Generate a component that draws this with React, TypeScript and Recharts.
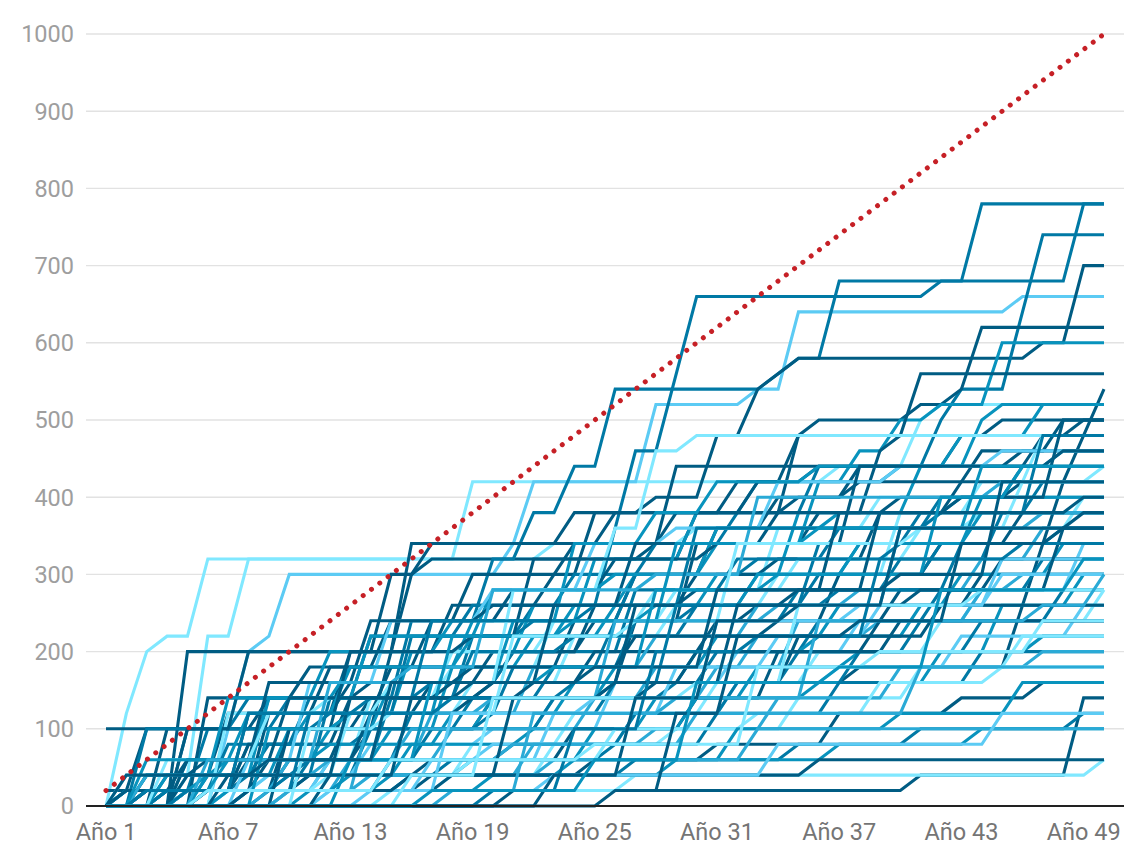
import { CartesianGrid, Line, LineChart, XAxis, YAxis } from 'recharts';

type Step = [number, number];

const yearLabels = Array.from({ length: 50 }, (_, i) => `Año ${i + 1}`);
const yTicks = [0, 100, 200, 300, 400, 500, 600, 700, 800, 900, 1000];

const targetLine = [
  20, 40, 60, 80, 100, 120, 140, 160, 180, 200,
  220, 240, 260, 280, 300, 320, 340, 360, 380, 400,
  420, 440, 460, 480, 500, 520, 540, 560, 580, 600,
  620, 640, 660, 680, 700, 720, 740, 760, 780, 800,
  820, 840, 860, 880, 900, 920, 940, 960, 980, 1000,
];

// each pair: [year, value reached that year]; value is held until the next pair
const l01: Step[] = [[2, 120], [3, 200], [4, 220], [6, 320], [19, 420], [37, 440], [41, 500], [42, 520]];
const l02: Step[] = [[5, 40], [6, 220], [8, 320], [23, 340], [30, 360], [44, 380]];
const l03: Step[] = [[7, 100], [8, 200], [9, 220], [10, 300], [21, 340], [22, 420], [28, 520], [33, 540], [35, 640], [46, 660]];
const l04: Step[] = [[1, 100], [14, 140], [20, 160], [27, 240], [33, 260], [44, 300]];
const l05: Step[] = [[5, 200], [16, 300], [17, 320], [28, 340], [29, 440], [46, 460], [48, 500]];
const l06: Step[] = [[6, 20], [11, 60], [15, 140], [19, 220], [22, 260], [26, 360], [27, 460], [29, 560], [30, 660], [42, 680], [44, 780]];
const l07: Step[] = [[3, 20], [8, 40], [12, 140], [16, 240], [20, 320], [22, 380], [24, 440], [26, 540], [34, 560], [35, 580], [37, 680], [49, 780]];
const l08: Step[] = [[4, 20], [9, 120], [13, 200], [18, 260], [23, 300], [25, 380], [28, 400], [31, 480], [33, 540], [34, 560], [35, 580], [47, 600], [49, 700]];
const l09: Step[] = [[2, 20], [6, 100], [10, 140], [14, 220], [19, 260], [24, 300], [28, 340], [32, 380], [36, 440], [42, 500], [43, 540], [46, 640], [47, 740]];
const l10: Step[] = [[3, 40], [7, 120], [12, 180], [17, 240], [21, 280], [26, 320], [30, 380], [35, 480], [36, 500], [41, 520], [43, 540], [44, 620]];
const l11: Step[] = [[5, 60], [9, 140], [13, 180], [19, 240], [25, 320], [30, 380], [33, 420], [38, 460], [40, 500], [42, 520], [45, 600]];
const l12: Step[] = [[5, 20], [9, 60], [13, 120], [17, 160], [21, 200], [25, 240], [30, 340], [36, 380], [39, 460], [40, 480], [41, 560]];
const l13: Step[] = [[3, 20], [8, 60], [14, 100], [20, 140], [26, 160], [38, 180], [46, 260], [47, 340], [48, 420], [49, 480], [50, 540]];
const l14: Step[] = [[4, 20], [8, 80], [11, 120], [16, 200], [22, 260], [27, 300], [31, 340], [36, 420], [40, 440], [44, 500], [45, 520]];
const l15: Step[] = [[1, 20], [3, 100], [13, 120], [15, 180], [24, 240], [27, 300], [31, 360], [34, 400], [38, 440], [47, 480], [49, 500]];
const l16: Step[] = [[2, 40], [9, 60], [14, 140], [18, 180], [23, 240], [28, 280], [34, 360], [39, 400], [45, 420], [47, 480]];
const l17: Step[] = [[6, 140], [11, 180], [15, 240], [19, 300], [24, 340], [29, 380], [33, 420], [36, 440], [43, 480]];
const l18: Step[] = [[3, 40], [7, 60], [12, 100], [18, 180], [22, 220], [26, 260], [31, 300], [35, 380], [41, 440], [48, 460]];
const l19: Step[] = [[6, 20], [10, 100], [15, 200], [16, 340], [24, 380], [35, 400], [38, 420], [44, 460]];
const l20: Step[] = [[2, 20], [7, 80], [11, 140], [17, 160], [21, 200], [27, 280], [32, 320], [37, 360], [42, 400], [46, 440]];
const l21: Step[] = [[4, 20], [9, 40], [13, 120], [19, 160], [24, 220], [29, 260], [34, 300], [40, 380], [44, 420], [50, 440]];
const l22: Step[] = [[4, 100], [9, 140], [14, 160], [20, 200], [25, 260], [30, 300], [34, 320], [39, 380], [43, 420]];
const l23: Step[] = [[5, 20], [10, 60], [16, 120], [21, 180], [26, 240], [30, 260], [36, 340], [41, 380], [47, 420]];
const l24: Step[] = [[2, 20], [6, 40], [10, 100], [15, 160], [21, 240], [28, 260], [33, 300], [38, 340], [44, 400]];
const l25: Step[] = [[7, 120], [12, 140], [18, 200], [23, 240], [29, 280], [35, 320], [41, 360], [49, 400]];
const l26: Step[] = [[4, 20], [8, 80], [13, 140], [18, 160], [25, 200], [31, 240], [37, 300], [42, 340], [46, 380]];
const l27: Step[] = [[3, 20], [11, 40], [14, 100], [19, 140], [23, 180], [27, 240], [35, 280], [40, 320], [45, 380]];
const l28: Step[] = [[5, 100], [8, 140], [19, 200], [24, 220], [30, 260], [36, 300], [42, 340], [48, 360]];
const l29: Step[] = [[7, 20], [12, 60], [17, 120], [22, 180], [28, 220], [33, 260], [38, 280], [44, 320], [47, 360]];
const l30: Step[] = [[5, 20], [10, 60], [15, 100], [20, 140], [26, 180], [31, 220], [37, 260], [43, 300], [48, 340]];
const l31: Step[] = [[3, 20], [9, 40], [14, 80], [20, 100], [26, 160], [32, 200], [38, 240], [44, 280], [49, 340]];
const l32: Step[] = [[4, 40], [9, 80], [14, 100], [20, 120], [26, 160], [31, 200], [36, 240], [42, 280], [47, 320]];
const l33: Step[] = [[5, 20], [8, 120], [13, 160], [19, 180], [27, 220], [34, 240], [40, 280], [45, 320]];
const l34: Step[] = [[2, 20], [7, 60], [12, 80], [18, 120], [24, 160], [30, 200], [36, 220], [41, 260], [49, 300]];
const l35: Step[] = [[8, 20], [13, 60], [18, 100], [23, 140], [28, 180], [33, 220], [39, 240], [44, 280], [46, 300]];
const l36: Step[] = [[6, 40], [11, 60], [17, 100], [23, 140], [29, 160], [35, 200], [41, 240], [48, 280]];
const l37: Step[] = [[9, 20], [14, 40], [19, 80], [24, 120], [31, 160], [36, 200], [42, 240], [50, 280]];
const l38: Step[] = [[4, 20], [10, 40], [16, 80], [22, 100], [28, 140], [33, 180], [38, 200], [45, 260]];
const l39: Step[] = [[7, 20], [12, 60], [20, 80], [27, 120], [32, 160], [37, 180], [43, 220], [49, 260]];
const l40: Step[] = [[6, 20], [11, 40], [17, 60], [24, 100], [30, 140], [34, 200], [39, 240]];
const l41: Step[] = [[9, 20], [15, 60], [21, 80], [27, 120], [32, 160], [38, 200], [44, 240]];
const l42: Step[] = [[3, 20], [10, 60], [16, 100], [25, 140], [31, 180], [35, 240]];
const l43: Step[] = [[8, 20], [13, 40], [19, 60], [25, 100], [30, 140], [36, 160], [42, 200], [47, 220]];
const l44: Step[] = [[12, 20], [18, 40], [23, 80], [29, 100], [35, 140], [41, 180], [46, 220]];
const l45: Step[] = [[4, 20], [10, 40], [18, 60], [26, 80], [31, 120], [37, 160], [44, 200]];
const l46: Step[] = [[9, 20], [16, 40], [22, 80], [28, 100], [34, 140], [40, 180], [47, 200]];
const l47: Step[] = [[5, 20], [12, 40], [19, 60], [26, 100], [33, 120], [39, 160], [45, 180]];
const l48: Step[] = [[10, 20], [17, 40], [25, 60], [31, 80], [37, 120], [43, 140], [47, 160]];
const l49: Step[] = [[7, 20], [15, 40], [24, 60], [32, 100], [40, 120], [46, 160]];
const l50: Step[] = [[21, 20], [41, 40], [49, 140]];
const l51: Step[] = [[8, 20], [16, 40], [27, 60], [35, 80], [41, 100], [49, 120]];
const l52: Step[] = [[11, 20], [20, 40], [29, 60], [37, 80], [44, 100]];
const l53: Step[] = [[5, 20], [14, 40], [23, 60], [33, 100]];
const l54: Step[] = [[15, 20], [27, 40], [50, 60]];
const l55: Step[] = [[3, 20], [18, 40], [36, 60]];
const l56: Step[] = [[3, 100], [12, 120], [16, 220], [22, 240], [27, 300], [33, 320], [40, 340]];
const l57: Step[] = [[5, 100], [8, 200], [15, 300], [17, 340], [26, 380], [32, 420], [35, 480], [45, 500]];
const l58: Step[] = [[6, 40], [9, 140], [14, 220], [20, 280], [26, 300], [31, 360], [37, 380], [43, 400]];
const l59: Step[] = [[8, 60], [11, 160], [15, 240], [20, 280], [25, 340], [29, 360], [34, 420], [40, 440], [45, 460]];
const l60: Step[] = [[4, 40], [7, 140], [12, 200], [18, 240], [24, 340], [28, 380], [31, 420], [36, 440], [43, 480], [47, 520]];
const l61: Step[] = [[5, 60], [9, 160], [14, 240], [20, 260], [27, 340], [34, 380], [40, 400], [46, 420]];
const l62: Step[] = [[4, 60], [9, 120], [15, 160], [21, 280], [26, 360], [28, 460], [30, 480]];
const l63: Step[] = [[2, 20], [5, 60], [10, 140], [20, 160], [30, 200], [40, 240]];
const l64: Step[] = [[10, 20], [17, 60], [23, 120], [29, 180], [34, 220], [39, 260], [45, 300]];
const l65: Step[] = [[3, 40], [12, 60], [21, 80], [30, 120], [41, 180]];
const l66: Step[] = [[5, 40], [6, 60], [14, 120], [19, 140], [28, 160], [35, 220], [42, 260]];
const l67: Step[] = [[3, 60], [8, 120], [13, 180], [19, 220], [24, 260], [33, 300], [38, 340], [44, 380]];
const l68: Step[] = [[12, 20], [23, 40], [34, 80], [45, 120]];
const l69: Step[] = [[10, 100], [13, 200], [19, 220], [22, 320], [31, 340], [38, 440], [48, 460]];
const l70: Step[] = [[6, 60], [12, 160], [16, 180], [20, 280], [28, 300], [33, 400], [45, 420]];
const l71: Step[] = [[3, 20], [8, 120], [14, 140], [17, 240], [25, 260], [30, 360], [42, 380], [47, 480]];
const l72: Step[] = [[9, 100], [13, 120], [18, 220], [24, 240], [29, 340], [36, 360], [44, 440]];
const l73: Step[] = [[11, 100], [15, 120], [21, 220], [27, 240], [32, 340], [41, 360], [46, 420]];
const l74: Step[] = [[7, 40], [13, 140], [19, 160], [23, 260], [30, 280], [37, 380], [43, 400], [48, 500]];
const l75: Step[] = [[10, 20], [14, 120], [20, 140], [26, 240], [34, 260], [40, 360], [47, 380]];
const l76: Step[] = [[12, 40], [16, 140], [22, 160], [27, 260], [35, 280], [39, 380], [49, 400]];
const l77: Step[] = [[5, 20], [11, 120], [18, 140], [24, 160], [29, 260], [37, 280], [43, 340]];
const l78: Step[] = [[14, 20], [18, 120], [25, 140], [31, 240], [38, 260], [45, 320]];
const l79: Step[] = [[8, 20], [16, 40], [21, 140], [26, 160], [32, 260], [41, 280], [48, 360]];
const l80: Step[] = [[13, 60], [17, 160], [23, 180], [28, 280], [34, 300], [42, 400], [46, 440]];
const l81: Step[] = [[16, 40], [20, 140], [30, 160], [35, 260], [44, 280]];
const l82: Step[] = [[2, 40], [9, 60], [15, 160], [25, 180], [31, 280], [40, 300], [45, 420]];
const l83: Step[] = [[18, 20], [22, 120], [29, 140], [36, 240], [47, 260], [50, 300]];
const l84: Step[] = [[20, 20], [24, 100], [28, 200], [33, 220], [39, 320], [46, 340]];
const l85: Step[] = [[23, 40], [27, 140], [31, 240], [35, 260], [40, 360], [49, 380]];
const l86: Step[] = [[6, 20], [15, 60], [25, 80], [33, 180], [39, 200], [47, 240]];
const l87: Step[] = [[26, 20], [29, 120], [32, 220], [38, 240], [43, 340], [48, 360]];
const l88: Step[] = [[17, 20], [25, 60], [30, 160], [37, 180], [42, 280], [49, 320]];

const allSteps: Step[][] = [
  l01, l02, l03, l04, l05, l06, l07, l08, l09, l10, l11, l12, l13, l14, l15, l16, l17,
  l18, l19, l20, l21, l22, l23, l24, l25, l26, l27, l28, l29, l30, l31, l32, l33, l34,
  l35, l36, l37, l38, l39, l40, l41, l42, l43, l44, l45, l46, l47, l48, l49, l50, l51,
  l52, l53, l54, l55, l56, l57, l58, l59, l60, l61, l62, l63, l64, l65, l66, l67, l68,
  l69, l70, l71, l72, l73, l74, l75, l76, l77, l78, l79, l80, l81, l82, l83, l84, l85,
  l86, l87, l88,
];

const palette = ['#80E8FF', '#5CCBF4', '#2AAAD6', '#0893BD', '#0079A5', '#005C83'];
const colorIdx = [
  0, 0, 1, 5, 5, 4, 4, 5, 4, 5, 3, 5, 5, 3, 5, 0, 5,
  3, 5, 4, 0, 5, 4, 3, 0, 5, 4, 4, 2, 3, 1, 4, 5, 3,
  2, 4, 0, 3, 1, 5, 4, 2, 3, 0, 4, 2, 0, 5, 3, 5, 4,
  3, 2, 0, 5, 4, 5, 3, 1, 3, 5, 0, 5, 1, 2, 5, 3, 1,
  5, 2, 4, 3, 0, 5, 2, 5, 4, 1, 5, 3, 0, 5, 2, 4, 5,
  0, 5, 3,
];

const seriesKeys = allSteps.map((_, i) => `s${i + 1}`);

function valueAt(steps: Step[], year: number) {
  let v = 0;
  for (const [y, val] of steps) if (y <= year) v = val;
  return v;
}

const data = yearLabels.map((label, i) => {
  const row: Record<string, number | string> = { year: label, target: targetLine[i] };
  allSteps.forEach((steps, k) => {
    row[seriesKeys[k]] = valueAt(steps, i + 1);
  });
  return row;
});

export default function App() {
  return (
    <div style={{ position: 'absolute', left: 0, top: 0, width: 1148, height: 866, background: '#fff' }}>
      <LineChart
        width={1148}
        height={866}
        data={data}
        margin={{ top: 34, right: 24, bottom: 0, left: 0 }}
        style={{ fontFamily: 'Roboto, sans-serif' }}
      >
        <CartesianGrid vertical={false} stroke="#e2e2e2" strokeWidth={1.4} />
        <XAxis
          dataKey="year"
          interval={5}
          padding={{ left: 20, right: 20 }}
          height={60}
          tickSize={0}
          tickMargin={17}
          tick={{ fill: '#757575', fontSize: 23.5 }}
          axisLine={{ stroke: '#222', strokeWidth: 2 }}
        />
        <YAxis
          width={86}
          domain={[0, 1000]}
          ticks={yTicks}
          tickSize={0}
          tickMargin={12}
          tick={{ fill: '#9e9e9e', fontSize: 23.5 }}
          axisLine={false}
        />
        {seriesKeys.map((key, k) => (
          <Line
            key={key}
            dataKey={key}
            type="linear"
            stroke={palette[colorIdx[k]]}
            strokeWidth={3.1}
            dot={false}
            activeDot={false}
            isAnimationActive={false}
          />
        ))}
        <Line
          dataKey="target"
          type="linear"
          stroke="#C62026"
          strokeWidth={5}
          strokeDasharray="0.01 10.4"
          strokeLinecap="round"
          dot={false}
          activeDot={false}
          isAnimationActive={false}
        />
      </LineChart>
    </div>
  );
}
